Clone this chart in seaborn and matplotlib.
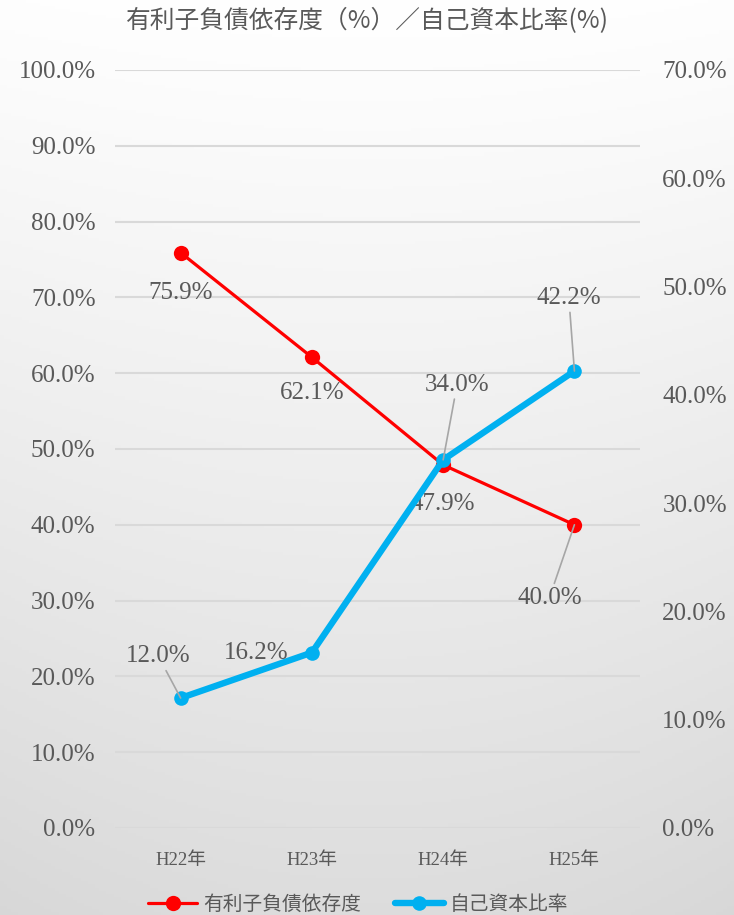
import numpy as np
import pandas as pd
import matplotlib
matplotlib.use("Agg")
import matplotlib.pyplot as plt
from matplotlib.lines import Line2D
import seaborn as sns

# Data
years = ["H22年", "H23年", "H24年", "H25年"]
debt_dependency = [75.9, 62.1, 47.9, 40.0]   # 有利子負債依存度 (left axis)
equity_ratio = [12.0, 16.2, 34.0, 42.2]      # 自己資本比率 (right axis)
left_ticks = [0, 10, 20, 30, 40, 50, 60, 70, 80, 90, 100]
right_ticks = [0, 10, 20, 30, 40, 50, 60, 70]

sns.set_theme(style="white")
FONT = ["Liberation Serif", "Noto Sans CJK JP", "DejaVu Sans"]
plt.rcParams["font.family"] = FONT
TEXT = "#595959"
RED = "#ff0000"
BLUE = "#00b0f0"

df = pd.DataFrame({"year": years, "x": range(len(years)),
                   "debt": debt_dependency, "equity": equity_ratio})

fig = plt.figure(figsize=(7.34, 9.15), dpi=100)

# soft vertical background gradient
bg = fig.add_axes([0, 0, 1, 1], zorder=-10)
h, w = 300, 200
yy = np.linspace(0, 1, h)[:, None]
xx = np.linspace(-1, 1, w)[None, :]
val = 1.0 - 0.135 * yy ** 1.1 - 0.015 * xx ** 2 * (0.3 + yy)
bg.imshow(np.dstack([val, val, val]), aspect="auto", extent=[0, 1, 0, 1],
          origin="upper", vmin=0, vmax=1)
bg.set_axis_off()

ax = fig.add_axes([0.1567, 0.0951, 0.7153, 0.8284])
ax.set_facecolor("none")
ax2 = ax.twinx()

sns.lineplot(data=df, x="x", y="debt", ax=ax, color=RED, linewidth=2.3,
             marker="o", markersize=11, markeredgewidth=0, zorder=3)
sns.lineplot(data=df, x="x", y="equity", ax=ax2, color=BLUE, linewidth=4.6,
             marker="o", markersize=10.5, markeredgewidth=0, zorder=4)

ax.set_xlim(-0.5, len(years) - 0.5)
ax.set_ylim(0, 100)
ax2.set_ylim(0, 70)
ax.set_yticks(left_ticks)
ax.set_yticklabels([f"{v:.1f}%" for v in left_ticks])
ax2.set_yticks(right_ticks)
ax2.set_yticklabels([f"{v:.1f}%" for v in right_ticks])
ax.set_xticks(range(len(years)))
ax.set_xticklabels(years)
ax.set_xlabel("")
ax.set_ylabel("")
ax2.set_ylabel("")

for a in (ax, ax2):
    for s in a.spines.values():
        s.set_visible(False)
    a.tick_params(length=0, colors=TEXT)
ax.tick_params(axis="y", labelsize=18, pad=14)
ax2.tick_params(axis="y", labelsize=18, pad=16)
ax.tick_params(axis="x", labelsize=13.5, pad=17)
for lab in ax.get_xticklabels():
    lab.set_family(FONT)
ax.yaxis.grid(True, color="#d9d9d9", linewidth=1.5)
ax.set_axisbelow(True)

# data labels (offsets in points)
lab_kw = dict(fontsize=18, color=TEXT, ha="center", va="center")
line_kw = dict(arrowstyle="-", color="#a6a6a6", lw=1.2, shrinkA=0, shrinkB=0)
debt_offsets = [(0, -29), (0, -26), (0, -28.5), (-18, -52.5)]
equity_offsets = [(-16, 30), (-40, 0), (10, 54), (-4, 52.5)]
debt_leader = [False, False, False, True]
equity_leader = [True, False, True, True]
for i, v in enumerate(debt_dependency):
    ax.annotate(f"{v:.1f}%", (i, v), xytext=debt_offsets[i],
                textcoords="offset points", zorder=6,
                arrowprops=line_kw if debt_leader[i] else None,
                **lab_kw)
for i, v in enumerate(equity_ratio):
    ax2.annotate(f"{v:.1f}%", (i, v), xytext=equity_offsets[i],
                 textcoords="offset points", zorder=6,
                 arrowprops=line_kw if equity_leader[i] else None,
                 **lab_kw)

fig.suptitle("有利子負債依存度（%）／自己資本比率(%)", y=0.991, fontsize=17.8,
             color=TEXT, family=["Noto Sans CJK JP", "DejaVu Sans"])

handles = [
    Line2D([0], [0], color=RED, lw=2.3, marker="o", markersize=11,
           markeredgewidth=0),
    Line2D([0], [0], color=BLUE, lw=4.6, marker="o", markersize=10.5,
           markeredgewidth=0),
]
leg = fig.legend(handles, ["有利子負債依存度", "自己資本比率"], loc="center",
                 bbox_to_anchor=(0.488, 0.012), ncol=2, frameon=False,
                 handlelength=2.5, columnspacing=1.7, handletextpad=0.3,
                 prop={"family": ["Noto Sans CJK JP", "DejaVu Sans"], "size": 14.2})
for t in leg.get_texts():
    t.set_color(TEXT)

fig.savefig("out.png", dpi=100)
